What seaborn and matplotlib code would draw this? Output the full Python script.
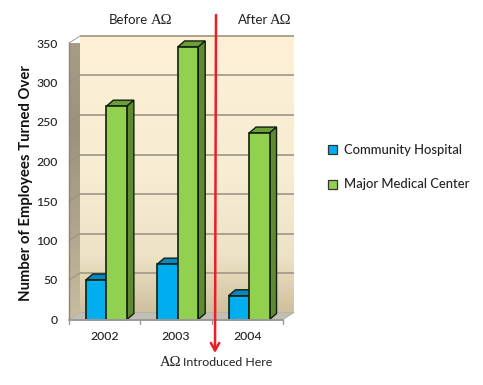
import numpy as np
import pandas as pd
import matplotlib
matplotlib.use("Agg")
import matplotlib.pyplot as plt
from matplotlib.patches import Polygon
from matplotlib.colors import LinearSegmentedColormap
import seaborn as sns

years = ["2002", "2003", "2004"]
community = [50, 70, 30]
major = [270, 345, 236]
series_names = ["Community Hospital", "Major Medical Center"]
yticks = [0, 50, 100, 150, 200, 250, 300, 350]

W, H = 483, 385
sns.set_theme(style="white")
plt.rcParams["font.family"] = ["Lato", "DejaVu Sans"]

df = pd.DataFrame({
    "year": years * 2,
    "value": community + major,
    "series": [series_names[0]] * 3 + [series_names[1]] * 3,
})
front = {series_names[0]: "#00AEEF", series_names[1]: "#92D050"}
side = {series_names[0]: "#0073A8", series_names[1]: "#5F8A30"}
top = {series_names[0]: "#0A86C0", series_names[1]: "#6E9E38"}

fig = plt.figure(figsize=(W / 100, H / 100), dpi=100, facecolor="white")
fx0, fx1, fy0, fy1 = 69, 283, 319.5, 43
ax = fig.add_axes([fx0 / W, 1 - fy0 / H, (fx1 - fx0) / W, (fy0 - fy1) / H])
ax.patch.set_visible(False)
sns.barplot(data=df, x="year", y="value", hue="series", palette=front, width=0.575,
            gap=0, edgecolor="#102010", linewidth=1.2, legend=False, ax=ax, zorder=5, saturation=1)
ax.set_xlim(-0.5, 2.5)
ax.set_ylim(0, 350)
ax.set_xlabel("")
ax.set_ylabel("")

upx = 3 / (fx1 - fx0)
upy = 350 / (fy0 - fy1)
wall_dx, wall_dy = 11 * upx, 7 * upy
bar_dx, bar_dy = 7 * upx, 6 * upy

# back wall gradient
wall_cm = LinearSegmentedColormap.from_list(
    "wall", [(0, "#FDF0D6"), (0.5, "#F7EDD3"), (0.8, "#EDE2C6"), (1, "#CFC19E")])
ax.imshow(np.linspace(0, 1, 256)[:, None], cmap=wall_cm, aspect="auto", zorder=0,
          extent=(-0.5 + wall_dx, 2.5 + wall_dx, wall_dy, 350 + wall_dy), clip_on=False)

# left wall gradient
lw_cm = LinearSegmentedColormap.from_list("lw", ["#A79E88", "#9C937E", "#AFA58D", "#C9BD9F"])
lw_poly = Polygon([(-0.5, 0), (-0.5 + wall_dx, wall_dy), (-0.5 + wall_dx, 350 + wall_dy), (-0.5, 350)],
                  closed=True, transform=ax.transData, fc="none", ec="none", clip_on=False)
ax.add_patch(lw_poly)
im2 = ax.imshow(np.linspace(0, 1, 128)[:, None], cmap=lw_cm, aspect="auto", zorder=1,
                extent=(-0.5, -0.5 + wall_dx, 0, 350 + wall_dy), clip_on=True)
im2.set_clip_path(lw_poly)
ax.set_xlim(-0.5, 2.5)
ax.set_ylim(0, 350)

# floor
ax.add_patch(Polygon([(-0.5, 0), (2.5, 0), (2.5 + wall_dx, wall_dy), (-0.5 + wall_dx, wall_dy)],
                     closed=True, fc="#C2BEB4", ec="#B0ACA2", lw=0.6, clip_on=False, zorder=1.5))

# grid on the wall
for v in yticks[1:]:
    ax.plot([-0.5 + wall_dx, 2.5 + wall_dx], [v + wall_dy, v + wall_dy], color="#A59C8A", lw=1.3,
            clip_on=False, zorder=2, solid_capstyle="butt")
    ax.plot([-0.5, -0.5 + wall_dx], [v, v + wall_dy], color="#968D7A", lw=0.6, clip_on=False, zorder=2)

# 3-D faces of the bars, built from the bars seaborn placed
n = len(years)
bars = [b for c in ax.containers for b in c]
order = [series_names[0]] * n + [series_names[1]] * n
shift = 1.7 * upx
for i, (b, name) in enumerate(zip(bars, order)):
    b.set_x(b.get_x() + shift)
    x0, w, h = b.get_x(), b.get_width(), b.get_height()
    z = 3 + 0.1 * (x0 + (3 if name == series_names[1] else 0))
    ec = "#102010"
    ax.add_patch(Polygon([(x0, h), (x0 + w, h), (x0 + w + bar_dx, h + bar_dy), (x0 + bar_dx, h + bar_dy)],
                         closed=True, fc=top[name], ec=ec, lw=1.0, clip_on=False, zorder=z))
    ax.add_patch(Polygon([(x0 + w, 0), (x0 + w + bar_dx, bar_dy), (x0 + w + bar_dx, h + bar_dy), (x0 + w, h)],
                         closed=True, fc=side[name], ec=ec, lw=1.0, clip_on=False, zorder=z))
    b.set_zorder(z + 0.5)
    b.set_clip_on(False)

# axes and ticks
for s in ["top", "right", "bottom", "left"]:
    ax.spines[s].set_visible(False)
ax.plot([-0.5, 2.5], [0, 0], color="#9A9A9A", lw=1.4, clip_on=False, zorder=9)
ax.plot([-0.5, -0.5], [0, 350], color="#8E8674", lw=1.0, clip_on=False, zorder=2)
for b in [-0.5, 0.5, 1.5, 2.5]:
    ax.plot([b, b], [0, -6], color="#9A9A9A", lw=1, clip_on=False, zorder=9)
ax.set_yticks(yticks)
ax.set_yticklabels([str(v) for v in yticks], fontsize=8.8, color="#222222", fontweight="medium")
ax.set_xticks(range(3))
ax.set_xticklabels(years, fontsize=8.8, color="#222222", fontweight="medium")
ax.tick_params(axis="y", length=0, pad=8)
ax.tick_params(axis="x", length=0, pad=8.5)

def px(x, y, s, **kw):
    return fig.text(x / W, 1 - y / H, s, **kw)

px(26, 183, "Number of Employees Turned Over", rotation=90, ha="center", va="center",
   fontsize=10.7, color="#111111", fontweight="bold")
tk = dict(va="center", fontsize=9.5, color="#222222")
sf = dict(va="center", fontsize=10.6, color="#222222", family="Liberation Serif")
px(109, 20, "Before", **tk)
px(151, 20, "AΩ", **sf)
px(238, 20, "After", **tk)
px(270, 20, "AΩ", **sf)
px(160, 362, "AΩ", **sf)
px(183, 363, "Introduced Here", fontsize=8.9, va="center", color="#222222")

# arrow
ax.annotate("", xy=(215 / W, 1 - 353 / H), xytext=(216 / W, 1 - 15 / H), xycoords="figure fraction",
            textcoords="figure fraction",
            arrowprops=dict(arrowstyle="->,head_length=0.45,head_width=0.25", color="#EE1C25", lw=1.8,
                            shrinkA=0, shrinkB=0), zorder=12, annotation_clip=False)

# legend
for y, name in [(149.5, series_names[0]), (184.5, series_names[1])]:
    fig.add_artist(plt.Rectangle((328 / W, 1 - (y + 4.5) / H), 9 / W, 9 / H, transform=fig.transFigure,
                                 fc=front[name], ec="#333333", lw=0.9))
    px(343.5, y, name, va="center", fontsize=9.4, color="#222222", fontweight="medium")

fig.savefig("out.png", dpi=100)
